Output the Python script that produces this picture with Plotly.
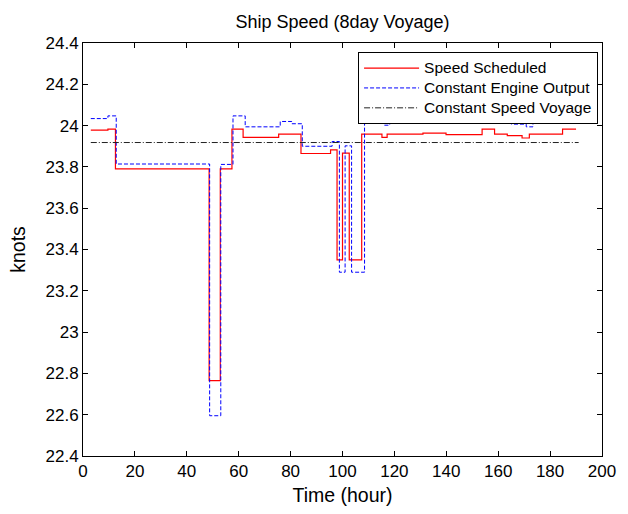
import plotly.graph_objects as go

# Speed Scheduled (step breakpoints, hour -> knots)
sched_x = [3, 9.6, 12.5, 48.6, 52.9, 57.4, 61.7, 75.4, 84, 95.4, 97.9, 100, 102.6,
           107.4, 115.2, 117.2, 131, 139.9, 153.8, 158.6, 163.5, 169.2, 172, 184.8, 190]
sched_y = [23.978, 23.983, 23.79, 22.765, 23.79, 23.983, 23.943, 23.959, 23.865, 23.882,
           23.35, 23.867, 23.35, 23.959, 23.943, 23.959, 23.964, 23.956, 23.983, 23.959,
           23.951, 23.94, 23.959, 23.983, 23.983]

# Constant Engine Output
engine_x = [3, 9.6, 12.8, 48.8, 53.1, 57.8, 62.5, 76, 80.5, 84.5, 96, 98.8, 101, 103.5,
            108.5, 115.9, 118.2, 131, 150.7, 153.3, 158.6, 165.1, 170.8, 173.4, 184.8, 190]
engine_y = [24.034, 24.047, 23.814, 22.595, 23.812, 24.047, 23.994, 24.02, 24.009, 23.90,
            23.923, 23.29, 23.902, 23.29, 24.04, 24.002, 24.04, 24.045, 24.012, 24.05,
            24.04, 24.007, 23.994, 24.04, 24.05, 24.05]

# Constant Speed Voyage
const_x = [3, 191]
const_y = [23.918, 23.918]

series_names = ["Speed Scheduled", "Constant Engine Output", "Constant Speed Voyage"]

x_ticks = [0, 20, 40, 60, 80, 100, 120, 140, 160, 180, 200]
y_ticks = [22.4, 22.6, 22.8, 23, 23.2, 23.4, 23.6, 23.8, 24, 24.2, 24.4]
y_tick_labels = ["22.4", "22.6", "22.8", "23", "23.2", "23.4", "23.6", "23.8", "24", "24.2", "24.4"]

FONT = "Liberation Sans, Arial, sans-serif"


def legend_label(s):
    return '<span style="font-size:15.5px">' + s + '</span>'


fig = go.Figure()
fig.add_trace(go.Scatter(x=sched_x, y=sched_y, mode="lines", name=legend_label(series_names[0]),
                         line=dict(color="#ff0000", width=1.2, shape="hv")))
fig.add_trace(go.Scatter(x=engine_x, y=engine_y, mode="lines", name=legend_label(series_names[1]),
                         line=dict(color="#0000ff", width=1, shape="hv", dash="4px,2px")))
fig.add_trace(go.Scatter(x=const_x, y=const_y, mode="lines", name=legend_label(series_names[2]),
                         line=dict(color="#222222", width=1, dash="6px,2px,1px,2px")))

axis_common = dict(showline=True, linecolor="black", linewidth=1, mirror="allticks",
                   ticks="inside", ticklen=5, tickcolor="black", showgrid=False, zeroline=False,
                   tickfont=dict(family=FONT, size=17, color="black"))

fig.update_layout(
    width=628, height=514,
    margin=dict(l=83, r=18, t=43, b=57),
    paper_bgcolor="white", plot_bgcolor="white",
    title=dict(text="Ship Speed (8day Voyage)", xref="paper", x=0.5, xanchor="center",
               yref="container", y=0.958, yanchor="middle",
               font=dict(family=FONT, size=18, color="black")),
    xaxis=dict(range=[0, 200], tickvals=x_ticks,
               title=dict(text="Time (hour)", font=dict(family=FONT, size=19.5, color="black"), standoff=7),
               **axis_common),
    yaxis=dict(range=[22.4, 24.4], tickvals=y_ticks, ticktext=y_tick_labels,
               title=dict(text="knots", font=dict(family=FONT, size=19.5, color="black"), standoff=14),
               **axis_common),
    legend=dict(x=0.53, y=0.978, xanchor="left", yanchor="top",
                bgcolor="white", bordercolor="black", borderwidth=1,
                font=dict(family=FONT, size=13, color="black"),
                tracegroupgap=0, itemwidth=55),
    showlegend=True,
)

fig.write_html("out.html")
